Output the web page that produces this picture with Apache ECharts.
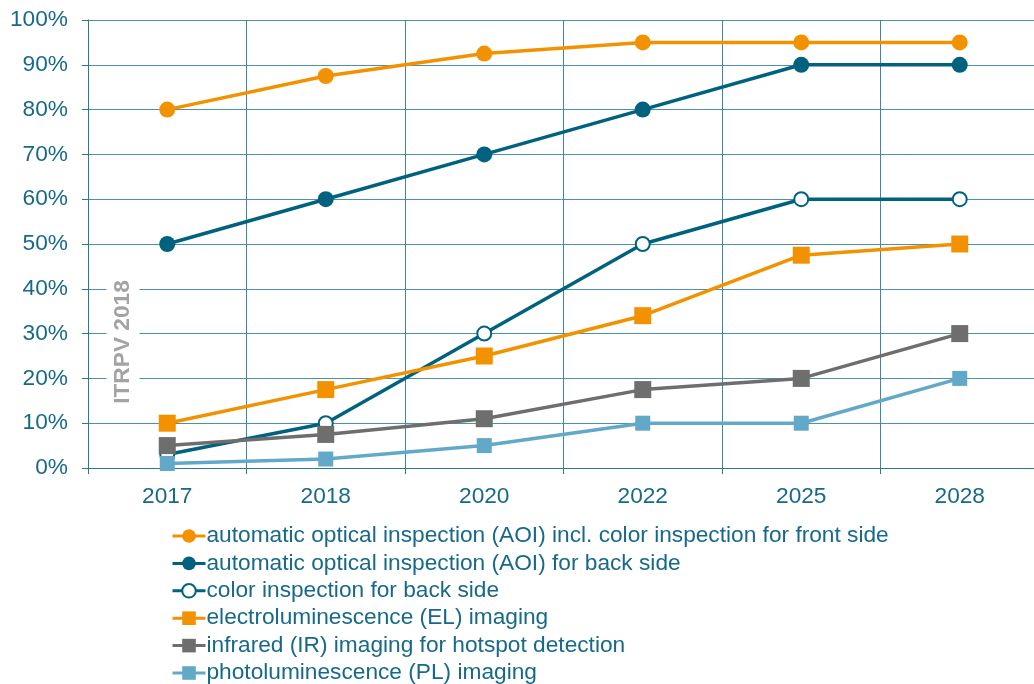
<!DOCTYPE html>
<html><head><meta charset="utf-8">
<script src="https://cdn.jsdelivr.net/npm/echarts@6/dist/echarts.min.js"></script>
<style>html,body{margin:0;padding:0;background:#fff}#c{width:1034px;height:684px}</style>
</head><body><div id="c"></div>
<script>
var categories = ['2017','2018','2020','2022','2025','2028'];
var aoiFront = [80, 87.5, 92.5, 95, 95, 95];
var aoiBack = [50, 60, 70, 80, 90, 90];
var colorBack = [3, 10, 30, 50, 60, 60];
var elImaging = [10, 17.5, 25, 34, 47.5, 50];
var irImaging = [5, 7.5, 11, 17.5, 20, 30];
var plImaging = [1, 2, 5, 10, 10, 20];
var seriesNames = [
  'automatic optical inspection (AOI) incl. color inspection for front side',
  'automatic optical inspection (AOI) for back side',
  'color inspection for back side',
  'electroluminescence (EL) imaging',
  'infrared (IR) imaging for hotspot detection',
  'photoluminescence (PL) imaging'
];
var watermark = 'ITRPV 2018';

var ORANGE = '#F39200', TEAL = '#00627F', GRAY = '#6E6E6E', LBLUE = '#62A9C9';
var TXT = '#17698A';
var FS = 22.7;
var FONT = 'Liberation Sans, Arial';
function mk(name, data, color, symbol, size){
  var s = {name:name, type:'line', data:data, symbol:symbol, symbolSize:size,
    showSymbol:true, lineStyle:{color:color, width:3.5}, itemStyle:{color:color}};
  if(symbol==='emptyCircle'){ s.itemStyle = {color:color, borderColor:color, borderWidth:2.5}; }
  return s;
}
var chart = echarts.init(document.getElementById('c'), null, {renderer:'canvas'});
chart.setOption({
  animation:false,
  grid:{left:88, top:20, width:951, height:448, containLabel:false, outerBoundsMode:'none'},
  xAxis:{type:'category', data:categories, boundaryGap:true,
    axisLine:{lineStyle:{color:'#2A7893', width:1}},
    axisTick:{show:true, length:6, lineStyle:{color:'#2A7893'}},
    splitLine:{show:true, lineStyle:{color:'#3C87A2', width:1}},
    axisLabel:{color:TXT, fontSize:FS, fontFamily:FONT, margin:17}},
  yAxis:{type:'value', min:0, max:100, interval:10,
    axisLine:{show:true, lineStyle:{color:'#2A7893'}},
    axisTick:{show:true, length:6, lineStyle:{color:'#2A7893'}},
    splitLine:{show:true, lineStyle:{color:'#4A92AB', width:1}},
    axisLabel:{color:TXT, fontSize:FS, fontFamily:FONT, margin:20,
      formatter:function(v){return v+'%';}}},
  legend:{orient:'vertical', left:166, top:519, height:200, itemWidth:33, itemHeight:17, itemGap:3.4,
    data:seriesNames, lineStyle:{width:3},
    textStyle:{color:TXT, fontSize:FS, fontFamily:FONT, lineHeight:24, padding:[0,0,0,-4]}},
  graphic:[{type:'text', x:123, y:342, rotation:Math.PI/2, z:5,
    style:{text:watermark, fill:'#A3A3A3', font:'bold ' + FS + 'px "Liberation Sans", Arial',
      align:'center', verticalAlign:'middle', backgroundColor:'#fff', padding:[5,8,5,8]}}],
  series:[
    mk(seriesNames[0], aoiFront, ORANGE, 'circle', 16),
    mk(seriesNames[1], aoiBack, TEAL, 'circle', 16),
    mk(seriesNames[2], colorBack, TEAL, 'emptyCircle', 14),
    mk(seriesNames[3], elImaging, ORANGE, 'rect', 17),
    mk(seriesNames[4], irImaging, GRAY, 'rect', 17),
    mk(seriesNames[5], plImaging, LBLUE, 'rect', 15)
  ]
});
</script></body></html>
